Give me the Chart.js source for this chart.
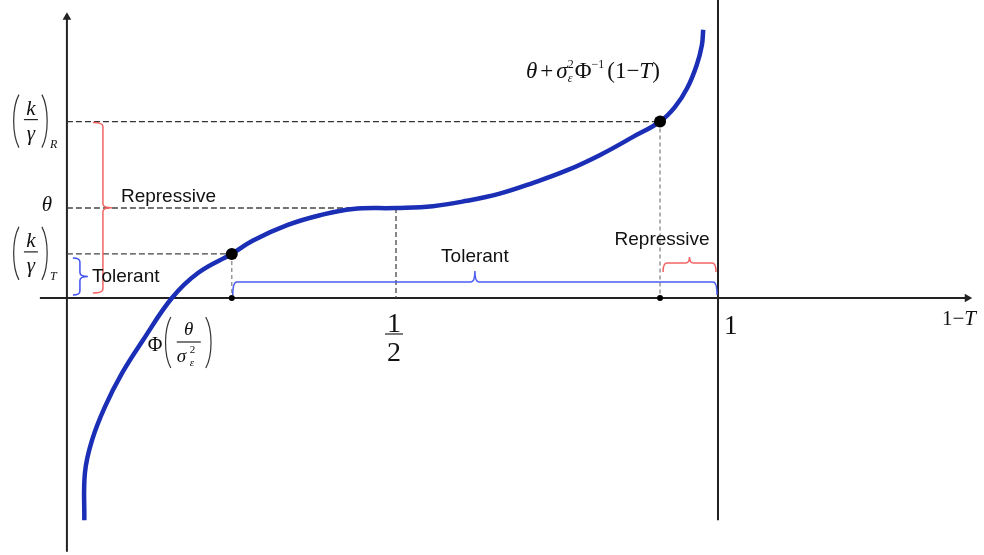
<html>
<head>
    <meta charset="utf-8" />
    <title>Tolerant / Repressive</title>
    <script src="https://cdn.jsdelivr.net/npm/chart.js"></script>
    <style>
        body { margin: 0; background: #fff; }
    </style>
</head>
<body>
<div style="width: 984px; height: 555px;">
    <canvas id="diagram"></canvas>
</div>

<script>
    // the curve: horizontal = 1 - T, vertical = θ + σ²Φ⁻¹(1 - T), with θ = 1
    const curveX = [0.016, 0.017, 0.028, 0.048, 0.075, 0.107, 0.152, 0.193, 0.245, 0.278, 0.331, 0.382, 0.433, 0.5,
        0.557, 0.610, 0.661, 0.713, 0.766, 0.817, 0.868, 0.910, 0.933, 0.952, 0.967, 0.975, 0.977];
    const curveY = [-2.47, -1.94, -1.58, -1.21, -0.83, -0.47, 0, 0.28, 0.49, 0.64, 0.81, 0.92, 0.99, 1.0,
        1.02, 1.08, 1.16, 1.28, 1.42, 1.59, 1.79, 1.96, 2.12, 2.33, 2.59, 2.81, 2.98];

    const theta = 1;
    const kgT = 0.49;    // (k/γ)_T
    const kgR = 1.96;    // (k/γ)_R
    const pT = 0.245;    // Φ(θ/σ²)
    const pHalf = 0.5;
    const pR = 0.910;
    const pOne = 1;

    // axes
    const yAxisAt = -0.011;
    const xAxisRange = [-0.053, 1.387];
    const yAxisRange = [-2.82, 3.12];
    const oneLineRange = [-2.47, 3.32];

    const ctx = document.getElementById('diagram');

    function seg(x1, y1, x2, y2) {
        return [{x: x1, y: y1}, {x: x2, y: y2}];
    }

    function guide(data, color, dash) {
        return {data: data, showLine: true, borderColor: color, borderWidth: 1.3, borderDash: dash, pointRadius: 0};
    }

    function hBrace(c, x1, x2, yBase, depth, tip, color) {
        const yl = yBase - depth, mid = (x1 + x2) / 2, r = 4;
        c.beginPath();
        c.moveTo(x1, yBase);
        c.quadraticCurveTo(x1, yl, x1 + r, yl);
        c.lineTo(mid - r, yl);
        c.quadraticCurveTo(mid, yl, mid, yl - tip);
        c.quadraticCurveTo(mid, yl, mid + r, yl);
        c.lineTo(x2 - r, yl);
        c.quadraticCurveTo(x2, yl, x2, yBase);
        c.strokeStyle = color;
        c.lineWidth = 1.5;
        c.stroke();
    }

    function vBrace(c, y1, y2, xBase, depth, tip, color) {
        const xl = xBase + depth, mid = (y1 + y2) / 2, r = 4;
        c.beginPath();
        c.moveTo(xBase, y1);
        c.quadraticCurveTo(xl, y1, xl, y1 + r);
        c.lineTo(xl, mid - r);
        c.quadraticCurveTo(xl, mid, xl + tip, mid);
        c.quadraticCurveTo(xl, mid, xl, mid + r);
        c.lineTo(xl, y2 - r);
        c.quadraticCurveTo(xl, y2, xBase, y2);
        c.strokeStyle = color;
        c.lineWidth = 1.5;
        c.stroke();
    }

    function txt(c, s, px, py, font, align) {
        c.font = font;
        c.textAlign = align || 'left';
        c.textBaseline = 'alphabetic';
        c.fillText(s, px, py);
        return c.measureText(s).width;
    }

    function paren(c, px, top, bottom, dir) {
        const h = bottom - top;
        c.beginPath();
        c.moveTo(px, top);
        c.bezierCurveTo(px + dir * 7, top + h * 0.25, px + dir * 7, bottom - h * 0.25, px, bottom);
        c.strokeStyle = '#333';
        c.lineWidth = 1.2;
        c.stroke();
    }

    function hline(c, x1, x2, py) {
        c.beginPath();
        c.moveTo(x1, py);
        c.lineTo(x2, py);
        c.strokeStyle = '#222';
        c.lineWidth = 1.2;
        c.stroke();
    }

    const SERIF = '"Liberation Serif", "Times New Roman", serif';
    const SANS = '"Liberation Sans", Arial, sans-serif';

    // (k/γ) with a subscript, bar lined up with its dashed level
    function kOverGamma(c, cx, bar, sub) {
        txt(c, 'k', cx, bar - 5, 'italic 21px ' + SERIF, 'center');
        txt(c, 'γ', cx, bar + 20, 'italic 21px ' + SERIF, 'center');
        hline(c, cx - 7, cx + 7, bar);
        paren(c, cx - 12, bar - 25, bar + 28, -1);
        paren(c, cx + 11, bar - 25, bar + 28, 1);
        txt(c, sub, cx + 19, bar + 28, 'italic 12px ' + SERIF);
    }

    const overlay = {
        id: 'overlay',
        afterDatasetsDraw(chart) {
            const c = chart.ctx;
            const X = v => chart.scales.x.getPixelForValue(v);
            const Y = v => chart.scales.y.getPixelForValue(v);
            const ax = X(yAxisAt), ay = Y(0);
            c.save();

            // braces
            vBrace(c, Y(kgR) + 1, ay - 5, ax + 26, 10, 9, '#f26464');
            vBrace(c, Y(kgT) + 4, ay - 3, ax + 6, 7, 8, '#3f51f0');
            hBrace(c, X(pT) + 1, X(pOne) - 1, ay - 3, 13, 11, '#4a5cf2');
            hBrace(c, X(pR) + 3, X(pOne) - 2, ay - 26, 9, 6, '#f26464');

            c.fillStyle = '#111';
            txt(c, 'Repressive', ax + 54, Y(theta) - 6, '19px ' + SANS);
            txt(c, 'Tolerant', ax + 25, ay - 16, '19px ' + SANS);
            txt(c, 'Tolerant', (X(pT) + X(pOne)) / 2, ay - 36, '19px ' + SANS, 'center');
            txt(c, 'Repressive', X(pR) + 2, ay - 53, '19px ' + SANS, 'center');

            // left labels
            kOverGamma(c, ax - 36, Y(kgR) - 2, 'R');
            kOverGamma(c, ax - 36, Y(kgT) - 2, 'T');
            txt(c, 'θ', ax - 20, Y(theta) + 3, 'italic 21px ' + SERIF, 'center');

            // Φ(θ/σ²ε) under the tolerant threshold
            const tx = X(pT);
            txt(c, 'Φ', tx - 84, ay + 53, '20px ' + SERIF);
            paren(c, tx - 61, ay + 19, ay + 70, -1);
            txt(c, 'θ', tx - 43, ay + 37, 'italic 19px ' + SERIF, 'center');
            hline(c, tx - 55, tx - 31, ay + 44);
            txt(c, 'σ', tx - 55, ay + 64, 'italic 19px ' + SERIF);
            txt(c, '2', tx - 42, ay + 55, '11px ' + SERIF);
            txt(c, 'ε', tx - 42, ay + 68, 'italic 11px ' + SERIF);
            paren(c, tx - 26, ay + 19, ay + 70, 1);

            // 1/2 and 1 on the horizontal axis
            const hx = X(pHalf) - 2;
            txt(c, '1', hx, ay + 34, '28px ' + SERIF, 'center');
            hline(c, hx - 9, hx + 9, ay + 36);
            txt(c, '2', hx, ay + 63, '28px ' + SERIF, 'center');
            txt(c, '1', X(pOne) + 6, ay + 36, '27px ' + SERIF);

            // axis name 1 − T
            let px = 942;
            px += txt(c, '1\u2212', px, ay + 27, '21px ' + SERIF);
            txt(c, 'T', px, ay + 27, 'italic 21px ' + SERIF);

            // curve formula θ + σ²ε Φ⁻¹(1 − T)
            const fb = Y(kgR) - 44;
            px = X(pR) - 134;
            px += txt(c, 'θ', px, fb, 'italic 23px ' + SERIF) + 3;
            px += txt(c, '+', px, fb, '23px ' + SERIF) + 3;
            px += txt(c, 'σ', px, fb, 'italic 23px ' + SERIF);
            const w2 = txt(c, '2', px, fb - 10, '12px ' + SERIF);
            const we = txt(c, 'ε', px, fb + 4, 'italic 12px ' + SERIF);
            px += Math.max(w2, we) + 1;
            px += txt(c, 'Φ', px, fb, '23px ' + SERIF);
            px += txt(c, '\u22121', px, fb - 10, '12px ' + SERIF) + 3;
            px += txt(c, '(1\u2212', px, fb, '23px ' + SERIF);
            px += txt(c, 'T', px, fb, 'italic 23px ' + SERIF);
            txt(c, ')', px, fb, '23px ' + SERIF);

            c.restore();
        }
    };

    const curve = curveX.map((v, i) => ({x: v, y: curveY[i]}));

    new Chart(ctx, {
        type: 'scatter',
        data: {
            datasets: [{
                // thresholds on the curve
                data: [{x: pT, y: kgT}, {x: pR, y: kgR}, {x: pT, y: 0}, {x: pR, y: 0}],
                pointRadius: [6, 6, 3, 3],
                pointBackgroundColor: '#000',
                pointBorderWidth: 0,
            }, {
                data: curve,
                showLine: true,
                borderColor: '#1a2eb6',
                borderWidth: 4.5,
                tension: 0.4,
                pointRadius: 0,
            },
                guide(seg(yAxisAt, kgR, pR, kgR), '#333', [6, 3]),
                guide(seg(yAxisAt, theta, pHalf, theta), '#444', [6, 3]),
                guide(seg(yAxisAt, kgT, pT, kgT), '#444', [6, 3]),
                guide(seg(pT, kgT, pT, 0), '#888', [4, 3]),
                guide(seg(pHalf, theta, pHalf, 0), '#444', [5, 3]),
                guide(seg(pR, kgR, pR, 0), '#888', [4, 3]),
            {
                data: seg(xAxisRange[0], 0, xAxisRange[1], 0),
                showLine: true,
                borderColor: '#222',
                borderWidth: 2,
                pointRadius: [0, 5],
                pointStyle: 'triangle',
                rotation: 90,
                pointBackgroundColor: '#222',
                pointBorderWidth: 0,
            }, {
                data: seg(yAxisAt, yAxisRange[0], yAxisAt, yAxisRange[1]),
                showLine: true,
                borderColor: '#222',
                borderWidth: 2,
                pointRadius: [0, 5],
                pointStyle: 'triangle',
                pointBackgroundColor: '#222',
                pointBorderWidth: 0,
            }, {
                data: seg(pOne, oneLineRange[0], pOne, oneLineRange[1]),
                showLine: true,
                borderColor: '#222',
                borderWidth: 2,
                pointRadius: 0,
            }]
        },
        options: {
            responsive: true,
            maintainAspectRatio: false,
            animation: false,
            layout: {padding: 0, autoPadding: false},
            plugins: {legend: {display: false}, tooltip: {enabled: false}},
            scales: {
                x: {type: 'linear', min: -0.11491, max: 1.41304, display: false},
                y: {type: 'linear', min: -2.8556, max: 3.3111, display: false}
            }
        },
        plugins: [overlay]
    });
</script>
</body>
</html>
